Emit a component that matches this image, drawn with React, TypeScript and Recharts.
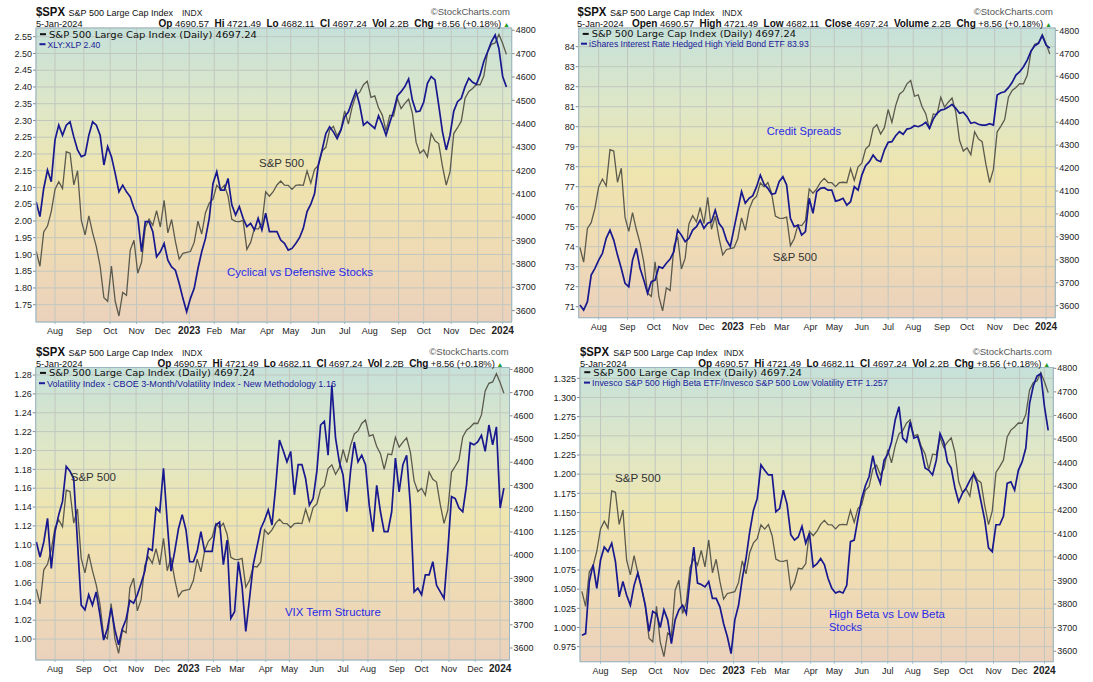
import React from "react";
import { LineChart, Line, XAxis, YAxis, CartesianGrid } from "recharts";

const ARIAL = "'Liberation Sans', Arial, Helvetica, sans-serif";
const DEJAVU = "'DejaVu Sans', Verdana, sans-serif";
const W = 546;
const H = 340;

// trading-day index counted from 11-Jul-2022, one row every 3 sessions
const days = [
  0, 3, 6, 9, 12, 15, 18, 21, 24, 27, 30, 33, 36, 39, 42, 45, 48, 51, 54, 57,
  60, 63, 66, 69, 72, 75, 78, 81, 84, 87, 90, 93, 96, 99, 102, 105, 108, 111, 114, 117,
  120, 123, 126, 129, 132, 135, 138, 141, 144, 147, 150, 153, 156, 159, 162, 165, 168, 171, 174, 177,
  180, 183, 186, 189, 192, 195, 198, 201, 204, 207, 210, 213, 216, 219, 222, 225, 228, 231, 234, 237,
  240, 243, 246, 249, 252, 255, 258, 261, 264, 267, 270, 273, 276, 279, 282, 285, 288, 291, 294, 297,
  300, 303, 306, 309, 312, 315, 318, 321, 324, 327, 330, 333, 336, 339, 342, 345, 348, 351, 354, 357,
  360, 363, 366, 369, 372, 375,
];

const spx = [
  3854, 3790, 3937, 3962, 4024, 4119, 4152, 4122, 4280, 4274,
  4138, 4199, 3986, 3924, 4006, 3933, 3873, 3790, 3655, 3640,
  3791, 3640, 3577, 3678, 3666, 3859, 3901, 3760, 3807, 3956,
  3992, 3965, 4028, 3958, 4072, 3933, 3990, 3896, 3821, 3845,
  3849, 3853, 3892, 3983, 3928, 4019, 4060, 4077, 4136, 4118,
  4137, 4090, 3991, 3982, 3981, 3986, 3862, 3892, 3952, 3949,
  3971, 4109, 4090, 4109, 4138, 4155, 4137, 4136, 4119, 4136,
  4138, 4136, 4198, 4146, 4205, 4221, 4283, 4299, 4373, 4389,
  4348, 4376, 4455, 4399, 4472, 4522, 4535, 4567, 4582, 4513,
  4519, 4468, 4437, 4370, 4436, 4433, 4508, 4465, 4487, 4505,
  4444, 4320, 4274, 4288, 4258, 4358, 4327, 4315, 4217, 4137,
  4194, 4358, 4383, 4411, 4509, 4538, 4551, 4568, 4567, 4604,
  4707, 4740, 4746, 4782, 4743, 4697,
];

// XLY:XLP
const xlyXlp = [
  2.057, 2.013, 2.097, 2.152, 2.117, 2.242, 2.286, 2.256, 2.286, 2.296,
  2.251, 2.212, 2.192, 2.197, 2.256, 2.296, 2.286, 2.256, 2.167, 2.222,
  2.192, 2.142, 2.087, 2.107, 2.087, 2.072, 2.038, 2.013, 1.908, 1.998,
  1.998, 1.968, 1.893, 1.908, 1.933, 1.883, 1.863, 1.853, 1.814, 1.769,
  1.729, 1.769, 1.799, 1.858, 1.908, 1.948, 2.008, 2.112, 2.147, 2.092,
  2.092, 2.127, 2.048, 2.018, 2.043, 2.008, 1.983, 1.993, 1.973, 2.008,
  1.973, 2.023, 1.968, 1.968, 1.968, 1.943, 1.933, 1.913, 1.918, 1.933,
  1.95, 1.978, 2.028, 2.05, 2.082, 2.167, 2.212, 2.261, 2.281, 2.266,
  2.246, 2.271, 2.311, 2.326, 2.358, 2.388, 2.346, 2.286, 2.296, 2.286,
  2.276, 2.314, 2.288, 2.256, 2.294, 2.328, 2.373, 2.386, 2.401, 2.424,
  2.361, 2.326, 2.328, 2.354, 2.411, 2.431, 2.421, 2.346, 2.266, 2.212,
  2.256, 2.328, 2.356, 2.366, 2.401, 2.426, 2.414, 2.408, 2.436, 2.477,
  2.505, 2.535, 2.555, 2.515, 2.431, 2.4,
];

// iShares Interest Rate Hedged High Yield Bond ETF
const hygh = [
  71.08, 70.83, 71.25, 72.58, 72.92, 73.33, 73.67, 74.42, 74.83, 74.33,
  73.58, 72.92, 72.17, 72.0, 73.33, 73.92, 72.92, 72.33, 71.67, 72.25,
  72.33, 73.0, 72.92, 73.17, 73.38, 73.75, 74.83, 74.58, 74.25, 74.42,
  74.83, 75.0, 75.33, 74.92, 75.17, 75.25, 75.83, 75.17, 74.92, 74.33,
  74.0, 74.92, 75.83, 76.75, 76.17, 76.42, 76.55, 77.0, 77.58, 77.12,
  76.92, 76.62, 76.67, 77.25, 77.5, 77.08, 75.42, 75.0, 75.08, 74.58,
  74.75, 76.42, 75.67, 76.75, 76.92, 76.95, 76.83, 76.83, 76.28, 76.33,
  76.42, 76.08, 76.25, 77.0, 76.83, 77.58, 78.05, 78.25, 78.58, 78.33,
  78.25, 78.83, 79.22, 79.25, 79.55, 79.75, 79.62, 79.88, 79.92, 80.05,
  80.0, 80.08, 80.22, 79.92, 80.38, 80.67, 80.83, 80.87, 80.98, 81.12,
  80.92, 80.67, 80.72, 80.5, 80.17, 80.22, 80.12, 80.08, 80.08, 80.15,
  80.08, 81.58, 81.7, 81.75, 81.95, 82.22, 82.58, 82.75, 83.0, 83.33,
  83.78, 84.05, 84.17, 84.55, 84.08, 83.93,
];

// VIX3M / VIX
const vixTerm = [
  1.103, 1.087, 1.103, 1.128, 1.075, 1.114, 1.132, 1.146, 1.183, 1.178,
  1.17, 1.103, 1.036, 1.031, 1.047, 1.036, 1.05, 1.026, 0.999, 1.011,
  1.033, 1.01, 0.994, 1.011, 1.021, 1.041, 1.038, 1.047, 1.059, 1.072,
  1.096, 1.094, 1.139, 1.135, 1.181, 1.124, 1.072, 1.093, 1.117, 1.132,
  1.116, 1.082, 1.082, 1.093, 1.114, 1.093, 1.093, 1.093, 1.121, 1.124,
  1.079, 1.105, 1.022, 1.029, 1.082, 1.056, 1.008, 1.043, 1.079, 1.098,
  1.117, 1.126, 1.137, 1.121, 1.162, 1.211, 1.2, 1.188, 1.199, 1.153,
  1.185, 1.185, 1.17, 1.142, 1.149, 1.178, 1.227, 1.231, 1.195, 1.269,
  1.213, 1.188, 1.174, 1.135, 1.178, 1.209, 1.188, 1.195, 1.185, 1.142,
  1.114, 1.163, 1.135, 1.114, 1.114, 1.135, 1.192, 1.156, 1.185, 1.195,
  1.142, 1.05, 1.054, 1.047, 1.068, 1.068, 1.082, 1.057, 1.05, 1.043,
  1.093, 1.151, 1.149, 1.139, 1.135, 1.163, 1.208, 1.206, 1.209, 1.216,
  1.199, 1.227, 1.206, 1.225, 1.139, 1.16,
];

// SPHB / SPLV
const betaRatio = [
  0.99, 0.992, 1.06, 1.082, 1.051, 1.088, 1.105, 1.099, 1.11, 1.086,
  1.04, 1.06, 1.042, 1.029, 1.055, 1.071, 1.051, 1.029, 0.995, 1.021,
  1.018, 1.0, 1.023, 1.01, 0.979, 1.01, 1.023, 1.029, 1.018, 1.064,
  1.105, 1.058, 1.056, 1.053, 1.06, 1.038, 1.038, 1.027, 1.005, 0.988,
  0.966, 1.01, 1.029, 1.064, 1.09, 1.125, 1.153, 1.168, 1.212, 1.205,
  1.199, 1.199, 1.151, 1.155, 1.179, 1.161, 1.121, 1.114, 1.118, 1.132,
  1.11, 1.123, 1.079, 1.083, 1.09, 1.082, 1.064, 1.051, 1.045, 1.047,
  1.045, 1.055, 1.112, 1.114, 1.142, 1.168, 1.185, 1.197, 1.224, 1.201,
  1.188, 1.218, 1.226, 1.242, 1.271, 1.288, 1.247, 1.242, 1.268, 1.247,
  1.249, 1.232, 1.208, 1.205, 1.199, 1.218, 1.253, 1.242, 1.216, 1.208,
  1.182, 1.164, 1.175, 1.182, 1.192, 1.2, 1.188, 1.164, 1.14, 1.104,
  1.099, 1.134, 1.134, 1.145, 1.188, 1.19, 1.179, 1.205, 1.216, 1.234,
  1.292, 1.315, 1.328, 1.331, 1.288, 1.257,
];

// first session of each month (trading-day index) and its label
const monthTicks = [15, 38, 59, 80, 101, 122, 142, 161, 184, 203, 225, 246, 266, 289, 309, 331, 352, 372];
const monthLabels = ["Aug", "Sep", "Oct", "Nov", "Dec", "2023", "Feb", "Mar", "Apr", "May", "Jun", "Jul", "Aug", "Sep", "Oct", "Nov", "Dec", "2024"];

const spxTicks = [3600, 3700, 3800, 3900, 4000, 4100, 4200, 4300, 4400, 4500, 4600, 4700, 4800];
const xlyTicks = [1.75, 1.8, 1.85, 1.9, 1.95, 2.0, 2.05, 2.1, 2.15, 2.2, 2.25, 2.3, 2.35, 2.4, 2.45, 2.5, 2.55];
const hyghTicks = [71, 72, 73, 74, 75, 76, 77, 78, 79, 80, 81, 82, 83, 84];
const vixTicks = [1.0, 1.02, 1.04, 1.06, 1.08, 1.1, 1.12, 1.14, 1.16, 1.18, 1.2, 1.22, 1.24, 1.26, 1.28];
const betaTicks = [0.975, 1.0, 1.025, 1.05, 1.075, 1.1, 1.125, 1.15, 1.175, 1.2, 1.225, 1.25, 1.275, 1.3, 1.325];

const quoteShort = [["Op", "4690.57"], ["Hi", "4721.49"], ["Lo", "4682.11"], ["Cl", "4697.24"], ["Vol", "2.2B"], ["Chg", "+8.56 (+0.18%)"]];
const quoteLong = [["Open", "4690.57"], ["High", "4721.49"], ["Low", "4682.11"], ["Close", "4697.24"], ["Volume", "2.2B"], ["Chg", "+8.56 (+0.18%)"]];

const rows = days.map((d, i) => ({
  day: d,
  spx: spx[i],
  xly: xlyXlp[i],
  hygh: hygh[i],
  vix: vixTerm[i],
  beta: betaRatio[i],
}));

type Note = { text: string; x: number; y: number; len: number; color: string };
type Panel = {
  id: string;
  ox: number;
  oy: number;
  plotL: number;
  plotR: number;
  plotT: number;
  plotB: number;
  xDomain: [number, number];
  lDomain: [number, number];
  lTicks: number[];
  lDigits: number;
  rDomain: [number, number];
  series: string;
  legend: string;
  legendLen: number;
  hdr: {
    spxX: number; nameX: number; indxX: number; scEnd: number; dateX: number;
    quoteX: number; quoteLen: number; long: boolean;
    leg1X: number; leg1Y: number; leg1Len: number; leg2X: number; leg2Y: number;
  };
  notes: Note[];
};

const BLUE_TXT = "#2a2ae6";
const GRAY_TXT = "#333";

const panels: Panel[] = [
  {
    id: "p1", ox: 0, oy: 0, plotL: 36, plotR: 511.7, plotT: 28, plotB: 322,
    xDomain: [-0.15, 379.2], lDomain: [1.6984, 2.576], lTicks: xlyTicks, lDigits: 2,
    rDomain: [3551.3, 4809.8], series: "xly", legend: "XLY:XLP 2.40", legendLen: 52.7,
    hdr: { spxX: 36, nameX: 68.6, indxX: 182, scEnd: 510, dateX: 36, quoteX: 158.5, quoteLen: 351.5, long: false, leg1X: 49, leg1Y: 37.5, leg1Len: 208, leg2X: 47.5, leg2Y: 47.5 },
    notes: [
      { text: "S&P 500", x: 259, y: 167, len: 45, color: GRAY_TXT },
      { text: "Cyclical vs Defensive Stocks", x: 227, y: 276, len: 146, color: BLUE_TXT },
    ],
  },
  {
    id: "p2", ox: 546, oy: 0, plotL: 32.7, plotR: 509.3, plotT: 28, plotB: 317.7,
    xDomain: [-0.96, 379.4], lDomain: [70.45, 84.935], lTicks: hyghTicks, lDigits: 0,
    rDomain: [3547.6, 4810.5], series: "hygh", legend: "iShares Interest Rate Hedged High Yield Bond ETF 83.93", legendLen: 219.7,
    hdr: { spxX: 31.4, nameX: 64, indxX: 176, scEnd: 507, dateX: 31, quoteX: 86, quoteLen: 420, long: true, leg1X: 45.7, leg1Y: 37.2, leg1Len: 204.3, leg2X: 43, leg2Y: 47 },
    notes: [
      { text: "Credit Spreads", x: 220.7, y: 134.7, len: 74.3, color: BLUE_TXT },
      { text: "S&P 500", x: 226.7, y: 260.7, len: 44.3, color: GRAY_TXT },
    ],
  },
  {
    id: "p3", ox: 0, oy: 340, plotL: 35.7, plotR: 509.5, plotT: 27.5, plotB: 320,
    xDomain: [-0.5, 379.5], lDomain: [0.9778, 1.288], lTicks: vixTicks, lDigits: 2,
    rDomain: [3548.5, 4808.2], series: "vix", legend: "Volatility Index - CBOE 3-Month/Volatility Index - New Methodology 1.16", legendLen: 289,
    hdr: { spxX: 36, nameX: 68.6, indxX: 182, scEnd: 508.7, dateX: 36, quoteX: 157.5, quoteLen: 346, long: false, leg1X: 49, leg1Y: 36.2, leg1Len: 206, leg2X: 47, leg2Y: 46.5 },
    notes: [
      { text: "S&P 500", x: 70.7, y: 141.3, len: 45.3, color: GRAY_TXT },
      { text: "VIX Term Structure", x: 285, y: 275.7, len: 95.7, color: BLUE_TXT },
    ],
  },
  {
    id: "p4", ox: 546, oy: 340, plotL: 34, plotR: 507.3, plotT: 27.5, plotB: 321.7,
    xDomain: [-1.5, 379.1], lDomain: [0.9554, 1.3391], lTicks: betaTicks, lDigits: 3,
    rDomain: [3555.7, 4803.4], series: "beta", legend: "Invesco S&P 500 High Beta ETF/Invesco S&P 500 Low Volatility ETF 1.257", legendLen: 295.7,
    hdr: { spxX: 34, nameX: 67.2, indxX: 177.7, scEnd: 506, dateX: 34, quoteX: 152.3, quoteLen: 352, long: false, leg1X: 47.3, leg1Y: 35.5, leg1Len: 208.7, leg2X: 46, leg2Y: 45.9 },
    notes: [
      { text: "S&P 500", x: 69, y: 141.7, len: 45.7, color: GRAY_TXT },
      { text: "High Beta vs Low Beta", x: 283, y: 277.7, len: 116, color: BLUE_TXT },
      { text: "Stocks", x: 283, y: 291.3, len: 33, color: BLUE_TXT },
    ],
  },
];

const MonthTick = (props: any) => {
  const { x, y, payload } = props;
  const i = monthTicks.indexOf(payload.value);
  const label = monthLabels[i] ?? "";
  const isYear = /^\d{4}$/.test(label);
  return (
    <text
      x={x}
      y={y + 8}
      textAnchor="middle"
      fontFamily={ARIAL}
      fontSize={isYear ? 10 : 9}
      fontWeight={isYear ? "bold" : "normal"}
      fill="#222"
    >
      {label}
    </text>
  );
};

function Overlay({ p }: { p: Panel }) {
  const h = p.hdr;
  const quote = h.long ? quoteLong : quoteShort;
  return (
    <svg width={W} height={H} style={{ position: "absolute", left: 0, top: 0, pointerEvents: "none" }}>
      <rect
        x={p.plotL}
        y={p.plotT}
        width={p.plotR - p.plotL}
        height={p.plotB - p.plotT}
        fill="none"
        stroke="#9db7c1"
        strokeWidth={1}
      />
      <text x={h.spxX} y={16} fontFamily={ARIAL} fontWeight="bold" fontSize={12.5} fill="#111" textLength={29} lengthAdjust="spacingAndGlyphs">
        $SPX
      </text>
      <text x={h.nameX} y={15.5} fontFamily={ARIAL} fontSize={9} fill="#111">
        S&amp;P 500 Large Cap Index
      </text>
      <text x={h.indxX} y={15.5} fontFamily={ARIAL} fontSize={8.5} fill="#222">
        INDX
      </text>
      <text x={h.scEnd} y={15} textAnchor="end" fontFamily={ARIAL} fontSize={9.5} fill="#555">
        ©StockCharts.com
      </text>
      <text x={h.dateX} y={26.5} fontFamily={ARIAL} fontSize={9.5} fill="#111" textLength={46.6} lengthAdjust="spacingAndGlyphs">
        5-Jan-2024
      </text>
      <text
        x={h.quoteX}
        y={26.5}
        fontFamily={ARIAL}
        fontSize={9.5}
        fill="#111"
        textLength={h.quoteLen}
        lengthAdjust="spacing"
        style={{ whiteSpace: "pre" }}
      >
        {quote.map(([k, v], i) => (
          <React.Fragment key={k}>
            <tspan fontWeight="bold" fontSize={10}>{(i ? "  " : "") + k}</tspan>
            <tspan>{" " + v}</tspan>
          </React.Fragment>
        ))}
        <tspan fill="#1f9a2a" fontSize={7}> ▲</tspan>
      </text>

      <line x1={h.leg1X - 9} x2={h.leg1X - 3} y1={h.leg1Y - 3.3} y2={h.leg1Y - 3.3} stroke="#111" strokeWidth={2} />
      <text x={h.leg1X} y={h.leg1Y} fontFamily={DEJAVU} fontSize={9.5} fill="#111" textLength={h.leg1Len} lengthAdjust="spacingAndGlyphs">
        S&amp;P 500 Large Cap Index (Daily) 4697.24
      </text>
      <line x1={h.leg2X - 8} x2={h.leg2X - 2} y1={h.leg2Y - 3.3} y2={h.leg2Y - 3.3} stroke="#1a1a9a" strokeWidth={2} />
      <text x={h.leg2X} y={h.leg2Y} fontFamily={ARIAL} fontSize={9} fill="#1a1a9a" textLength={p.legendLen} lengthAdjust="spacingAndGlyphs">
        {p.legend}
      </text>

      {p.notes.map((n) => (
        <text key={n.text} x={n.x} y={n.y} fontFamily={ARIAL} fontSize={11.5} fill={n.color} textLength={n.len} lengthAdjust="spacingAndGlyphs">
          {n.text}
        </text>
      ))}
    </svg>
  );
}

function PanelChart({ p }: { p: Panel }) {
  const gid = `bg-${p.id}`;
  const axisTick = { fontSize: 9, fill: "#222", fontFamily: ARIAL };
  return (
    <div style={{ position: "absolute", left: p.ox, top: p.oy, width: W, height: H }}>
      <LineChart
        width={W}
        height={H}
        data={rows}
        margin={{ top: p.plotT, right: 0, bottom: H - p.plotB - 20, left: 0 }}
      >
        <defs>
          <linearGradient id={gid} x1="0" y1="0" x2="0" y2="1">
            <stop offset="0%" stopColor="#c6e1da" />
            <stop offset="28%" stopColor="#dfe7c6" />
            <stop offset="50%" stopColor="#efe5ae" />
            <stop offset="72%" stopColor="#efdcb3" />
            <stop offset="100%" stopColor="#ebd1bc" />
          </linearGradient>
        </defs>
        <CartesianGrid yAxisId="left" fill={`url(#${gid})`} stroke="#c1c7bf" strokeWidth={1} />
        <XAxis
          dataKey="day"
          type="number"
          domain={p.xDomain}
          allowDataOverflow
          ticks={monthTicks}
          interval={0}
          height={20}
          tickSize={2}
          tickMargin={2}
          axisLine={false}
          tickLine={{ stroke: "#9db7c1" }}
          tick={<MonthTick />}
        />
        <YAxis
          yAxisId="left"
          orientation="left"
          type="number"
          width={p.plotL}
          domain={p.lDomain}
          allowDataOverflow
          ticks={p.lTicks}
          interval={0}
          tickSize={3}
          tickMargin={1}
          axisLine={false}
          tickLine={{ stroke: "#888" }}
          tick={axisTick}
          tickFormatter={(v: number) => v.toFixed(p.lDigits)}
        />
        <YAxis
          yAxisId="right"
          orientation="right"
          type="number"
          width={W - p.plotR}
          domain={p.rDomain}
          allowDataOverflow
          ticks={spxTicks}
          interval={0}
          tickSize={3}
          tickMargin={1}
          axisLine={false}
          tickLine={{ stroke: "#888" }}
          tick={axisTick}
        />
        <Line
          yAxisId="right"
          dataKey="spx"
          type="linear"
          stroke="#5b5a4d"
          strokeWidth={1.3}
          dot={false}
          isAnimationActive={false}
        />
        <Line
          yAxisId="left"
          dataKey={p.series}
          type="linear"
          stroke="#18188f"
          strokeWidth={1.7}
          dot={false}
          isAnimationActive={false}
        />
      </LineChart>
      <Overlay p={p} />
    </div>
  );
}

export default function App() {
  return (
    <div
      style={{
        position: "absolute",
        left: 0,
        top: 0,
        width: 1093,
        height: 682,
        background: "#ffffff",
        fontFamily: ARIAL,
        overflow: "hidden",
      }}
    >
      {panels.map((p) => (
        <PanelChart key={p.id} p={p} />
      ))}
    </div>
  );
}
